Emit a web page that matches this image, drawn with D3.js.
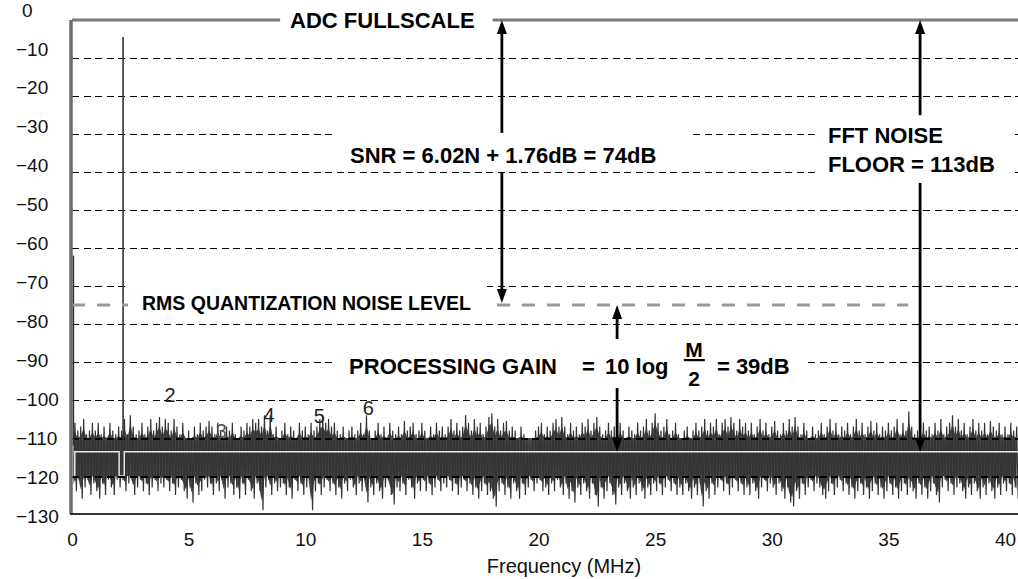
<!DOCTYPE html>
<html>
<head>
<meta charset="utf-8">
<script src="https://cdn.jsdelivr.net/npm/d3@7"></script>
<style>
body { margin: 0; background: #fff; }
svg { display: block; }
</style>
</head>
<body>
<svg></svg>
<script>
// ---- data ----
let xTicks = [0, 5, 10, 15, 20, 25, 30, 35, 40]
let yTicks = [0, -10, -20, -30, -40, -50, -60, -70, -80, -90, -100, -110, -120, -130]
let gridLevels = [-10, -20, -30, -40, -50, -60, -70, -80, -90, -100, -110, -120]

// noise floor, one bin every 0.125 MHz: upper and lower envelope (dB)
let noiseStep = 0.125
let noiseHi = [
  -104, -106, -108, -107, -105, -109, -108, -106,
  -108, -106, -109, -107, -110, -106, -108, -109,
  -107, -108, -105, -109, -104, -107, -109, -108,
  -106, -109, -107, -105, -108, -106, -104.5, -107,
  -105, -106, -108, -105, -107, -109, -106, -110,
  -108, -110, -107, -109, -106, -108, -107, -105.5,
  -107, -109, -106, -108, -110, -107, -108, -106,
  -109, -110, -107, -108, -106, -107, -105, -106,
  -105, -107, -104, -108, -104, -109, -107, -110,
  -108, -106, -109, -107, -108, -110, -106, -108,
  -107, -109, -106, -108, -107, -105, -104.5, -106,
  -105, -107, -106, -108, -109, -107, -110, -108,
  -107, -109, -108, -106, -109, -104, -108, -110,
  -108, -106, -109, -107, -110, -106, -108, -109,
  -107, -109, -105.5, -108, -107, -106, -109, -108,
  -106, -108, -110, -107, -109, -106, -108, -107,
  -109, -107, -105, -108, -106, -108, -107, -104,
  -106, -108, -105, -107, -106, -109, -107, -104.5,
  -103.5, -107, -105, -108, -106, -105.5, -108, -107,
  -108, -110, -107, -109, -111, -112, -110, -108,
  -107, -106, -109, -107, -108, -106, -105, -107,
  -104.5, -107, -109, -106, -108, -107, -109, -106,
  -107, -105, -108, -106, -104.5, -107, -109, -108,
  -106, -108, -107, -109, -106, -108, -110, -107,
  -108, -109, -106, -108, -107, -105, -108, -106,
  -103.5, -106, -108, -107, -105, -109, -108, -106,
  -109, -110, -108, -107, -110, -108, -106, -108,
  -107, -105, -108, -106, -107, -105, -109, -106,
  -105, -107, -104.5, -106, -108, -105, -107, -106,
  -108, -106, -109, -107, -105, -108, -106, -109,
  -107, -105.5, -108, -109, -106, -108, -105, -107,
  -104.5, -107, -109, -106, -108, -110, -107, -109,
  -108, -106, -109, -107, -105, -108, -106, -109,
  -107, -108, -106, -109, -107, -105, -108, -106,
  -109, -107, -105.5, -108, -106, -109, -107, -108,
  -106, -108, -107, -105, -109, -106, -108, -103,
  -107, -109, -108, -110, -106, -108, -107, -109,
  -106, -108, -105, -109, -107, -106, -104, -107,
  -105, -108, -106, -109, -107, -105, -108, -106,
  -108, -106, -109, -105.5, -107, -108, -106, -109,
  -107, -109, -106, -108, -107
]
let noiseLo = [
  -122, -124, -121, -126, -123, -121, -125, -122,
  -124, -126, -122, -125, -121, -123, -125, -121,
  -123, -121, -124, -122, -120, -125, -123, -121,
  -124, -122, -125, -123, -121, -124, -122, -123,
  -121, -124, -122, -125, -123, -121, -124, -126,
  -123, -127, -122, -125, -124, -121, -123, -122,
  -125, -122, -124, -121, -126, -123, -122, -125,
  -123, -126, -122, -125, -121, -124, -126, -122,
  -124, -129, -123, -121, -125, -122, -124, -123,
  -122, -125, -123, -126, -121, -124, -122, -125,
  -123, -121, -129, -124, -122, -125, -123, -121,
  -124, -122, -125, -123, -126, -122, -124, -121,
  -123, -125, -122, -124, -121, -127, -123, -125,
  -122, -124, -126, -123, -121, -125, -127.5, -123,
  -124, -122, -125, -121, -123, -126, -122, -124,
  -121, -124, -122, -125, -123, -121, -124, -122,
  -123, -121, -124, -122, -125, -123, -121, -124,
  -122, -125, -123, -126, -124, -122, -125, -124,
  -126, -128, -124, -122, -125, -123, -126, -122,
  -124, -126, -122, -125, -123, -121, -124, -122,
  -121, -124, -123, -125, -122, -124, -121, -123,
  -125, -122, -126, -124, -127, -123, -125, -122,
  -124, -126, -122, -125, -128, -123, -126, -124,
  -122, -125, -127.5, -123, -125, -122, -124, -126,
  -123, -125, -122, -124, -126, -123, -125, -122,
  -124, -122, -125, -123, -121, -124, -122, -125,
  -123, -125, -122, -124, -126, -123, -125, -122,
  -128, -124, -126, -122, -125, -123, -121, -124,
  -122, -125, -123, -121, -124, -122, -125, -123,
  -125, -122, -124, -126, -123, -121, -124, -122,
  -123, -125, -122, -124, -126, -123, -127, -128,
  -124, -126, -122, -125, -123, -121, -124, -122,
  -123, -125, -126, -124, -122, -125, -123, -121,
  -124, -122, -125, -123, -126, -124, -122, -125,
  -123, -126, -124, -122, -125, -123, -126, -124,
  -122, -125, -123, -126, -124, -122, -125, -123,
  -124, -126, -122, -125, -123, -126, -124, -122,
  -125, -127, -123, -121, -124, -122, -125, -123,
  -122, -124, -126, -123, -125, -122, -124, -126,
  -123, -125, -122, -124, -126, -123, -125, -122,
  -124, -122, -125, -123, -126
]

// DC and fundamental
let signalFreq = [0.06, 2.19]
let signalDb = [-62, -4.5]

// harmonic markers
let harmLabel = ['2', '3', '4', '5', '6']
let harmFreq = [4.2, 6.4, 8.45, 10.6, 12.7]
let harmDb = [-100.5, -110, -105.8, -106, -104]

// averaged noise trace (white line)
let avgFreq = [0.12, 0.12, 2.02, 2.02, 2.24, 2.24, 40.6]
let avgDb = [-120.3, -113.6, -113.6, -120, -120, -113.6, -113.6]

let fullscaleDb = 0
let rmsNoiseDb = -75
let rmsEndFreq = 35.85

// arrows: frequency, from dB, to dB
let arrowFreq = [18.43, 23.37, 36.36]
let arrowFrom = [0, -75, 0]
let arrowTo = [-74.5, -113.6, -113.6]

// ---- drawing ----
let w = 1018
let h = 579
let svg = d3.select('svg').attr('width', w).attr('height', h)
let tickFont = "'Liberation Sans', Arial, sans-serif"
let boldFont = "'Liberation Sans', Arial, sans-serif"

let x = d3.scaleLinear().domain([0, 40]).range([72, 1005])
let y = d3.scaleLinear().domain([0, -130]).range([20, 514])
let yText = d3.scaleLinear().domain([0, -130]).range([10, 516])

svg.append('rect').attr('width', w).attr('height', h).attr('fill', '#fff')

svg.append('defs').append('clipPath').attr('id', 'plot')
   .append('rect').attr('x', x(0) + 1.5).attr('y', 0).attr('width', w - x(0)).attr('height', y(-130))

// fullscale line
svg.append('line')
   .attr('x1', x(0)).attr('x2', w)
   .attr('y1', y(fullscaleDb)).attr('y2', y(fullscaleDb))
   .attr('stroke', '#7a7a7a').attr('stroke-width', 3)

// noise
let bins = noiseHi.map((v, i) => ({ f: i * noiseStep, hi: v, lo: noiseLo[i] }))
let noise = svg.append('g').attr('clip-path', 'url(#plot)')

noise.append('path')
   .datum(bins)
   .attr('fill', '#464646')
   .attr('d', d3.area()
      .x(d => x(d.f))
      .y0(d => y(Math.min(d.lo + 2.5, -120)))
      .y1(d => y(Math.max(d.hi - 2.5, -110))))

let zig = []
bins.forEach(d => {
    zig.push({ f: d.f, db: d.hi })
    zig.push({ f: d.f + noiseStep / 2, db: d.lo })
})
noise.append('path')
   .datum(zig)
   .attr('fill', 'none')
   .attr('stroke', '#333')
   .attr('stroke-width', 1.2)
   .attr('d', d3.line().x(d => x(d.f)).y(d => y(d.db)))

// grid
svg.append('g').selectAll('line')
   .data(gridLevels)
   .enter()
   .append('line')
   .attr('x1', x(0)).attr('x2', w)
   .attr('y1', d => Math.round(y(d)) + 0.5).attr('y2', d => Math.round(y(d)) + 0.5)
   .attr('stroke', '#000')
   .attr('stroke-width', d => d <= -110 ? 2 : 1)
   .attr('shape-rendering', 'crispEdges')
   .attr('stroke-dasharray', '7,4.5')

// averaged floor
noise.append('path')
   .datum(avgFreq.map((f, i) => [f, avgDb[i]]))
   .attr('fill', 'none')
   .attr('stroke', '#e6e6e6')
   .attr('stroke-width', 1.5)
   .attr('d', d3.line().x(d => x(d[0])).y(d => y(d[1])))

// DC + fundamental
svg.append('g').selectAll('line')
   .data(signalFreq)
   .enter()
   .append('line')
   .attr('x1', d => x(d)).attr('x2', d => x(d))
   .attr('y1', y(-112)).attr('y2', (d, i) => y(signalDb[i]))
   .attr('stroke', '#333')
   .attr('stroke-width', 1.6)

// rms quantization noise level
svg.append('line')
   .attr('x1', x(0)).attr('x2', x(rmsEndFreq))
   .attr('y1', y(rmsNoiseDb)).attr('y2', y(rmsNoiseDb))
   .attr('stroke', '#999')
   .attr('stroke-width', 3)
   .attr('stroke-dasharray', '13,12')

// arrows
let head = (px, py, dir) => {
    let l = 14, hw = 5
    return 'M' + px + ',' + py + 'L' + (px - hw) + ',' + (py + dir * l) + 'L' + (px + hw) + ',' + (py + dir * l) + 'Z'
}
let arrows = svg.append('g')
arrowFreq.forEach((f, i) => {
    let ax = x(f)
    arrows.append('line')
       .attr('x1', ax).attr('x2', ax)
       .attr('y1', y(arrowFrom[i]) + 10).attr('y2', y(arrowTo[i]) - 10)
       .attr('stroke', '#000').attr('stroke-width', 2.8)
    arrows.append('path').attr('d', head(ax, y(arrowFrom[i]), 1)).attr('fill', '#000')
    arrows.append('path').attr('d', head(ax, y(arrowTo[i]), -1)).attr('fill', '#000')
})

// axes lines
svg.append('line')
   .attr('x1', x(0) - 1).attr('x2', x(0) - 1)
   .attr('y1', y(0)).attr('y2', y(-130))
   .attr('stroke', '#6e6e6e').attr('stroke-width', 3.5)
svg.append('line')
   .attr('x1', x(0) - 2).attr('x2', w)
   .attr('y1', y(-130)).attr('y2', y(-130))
   .attr('stroke', '#333').attr('stroke-width', 2)

// annotations with white boxes behind them
let annotate = (lines, pad) => {
    let g = svg.append('g')
    let box = g.append('rect').attr('fill', '#fff')
    lines.forEach(t => {
        g.append('text')
         .attr('x', t.x).attr('y', t.y)
         .attr('text-anchor', t.anchor || 'start')
         .attr('font-family', boldFont)
         .attr('font-weight', 'bold')
         .attr('font-size', t.size || 22)
         .attr('fill', '#000')
         .text(t.text)
    })
    if (lines.bar) {
        g.append('line')
         .attr('x1', lines.bar[0]).attr('x2', lines.bar[1])
         .attr('y1', lines.bar[2]).attr('y2', lines.bar[2])
         .attr('stroke', '#000').attr('stroke-width', 2.2)
    }
    let bb = g.node().getBBox()
    box.attr('x', bb.x - pad[3]).attr('y', bb.y - pad[0])
       .attr('width', bb.width + pad[1] + pad[3])
       .attr('height', bb.height + pad[0] + pad[2])
}

annotate([{ text: 'ADC FULLSCALE', x: x(9.35), y: y(-2.1) }], [0, 18, 0, 10])
annotate([{ text: 'SNR = 6.02N + 1.76dB = 74dB', x: x(11.92), y: y(-37.6) }], [10, 34, 4, 15])
annotate([
    { text: 'FFT NOISE', x: x(32.41), y: y(-32.4) },
    { text: 'FLOOR = 113dB', x: x(32.41), y: y(-40) }
], [8, 16, 6, 13])
annotate([{ text: 'RMS QUANTIZATION NOISE LEVEL', x: x(3.0), y: y(-76.3), size: 19.5 }], [11, 16, 4, 14])

let pg = [
    { text: 'PROCESSING GAIN', x: x(11.88), y: y(-93.2) },
    { text: '=', x: x(21.87), y: y(-93.2) },
    { text: '10 log', x: x(22.85), y: y(-93.2) },
    { text: 'M', x: x(26.67), y: y(-88.7), anchor: 'middle', size: 21 },
    { text: '2', x: x(26.67), y: y(-96.3), anchor: 'middle', size: 21 },
    { text: '= 39dB', x: x(27.65), y: y(-93.2) }
]
pg.bar = [x(26.23), x(27.13), y(-89.5)]
annotate(pg, [-1, 15, -2, 15])

// harmonic labels
svg.append('g').selectAll('text')
   .data(harmLabel)
   .enter()
   .append('text')
   .attr('x', (d, i) => x(harmFreq[i]))
   .attr('y', (d, i) => y(harmDb[i]))
   .attr('text-anchor', 'middle')
   .attr('font-family', tickFont)
   .attr('font-size', 20)
   .attr('fill', (d, i) => i === 1 ? '#555' : '#222')
   .text(d => d)

// tick labels via d3 axes
let xAxis = d3.axisBottom(x).tickValues(xTicks).tickSize(0).tickPadding(19)
let gx = svg.append('g').attr('transform', 'translate(0,' + y(-130) + ')').call(xAxis)
gx.select('.domain').remove()
gx.selectAll('text').attr('font-family', tickFont).attr('font-size', 19).attr('fill', '#111')

let yAxis = d3.axisLeft(yText).tickValues(yTicks).tickSize(0)
let gy = svg.append('g').call(yAxis)
gy.select('.domain').remove()
gy.selectAll('text')
  .attr('text-anchor', 'start')
  .attr('x', d => d === 0 ? 22 : 16)
  .attr('font-family', tickFont).attr('font-size', 19).attr('fill', '#111')

svg.append('text')
   .attr('x', 564).attr('y', 573)
   .attr('text-anchor', 'middle')
   .attr('font-family', tickFont)
   .attr('font-size', 20)
   .attr('fill', '#111')
   .text('Frequency (MHz)')
</script>
</body>
</html>
